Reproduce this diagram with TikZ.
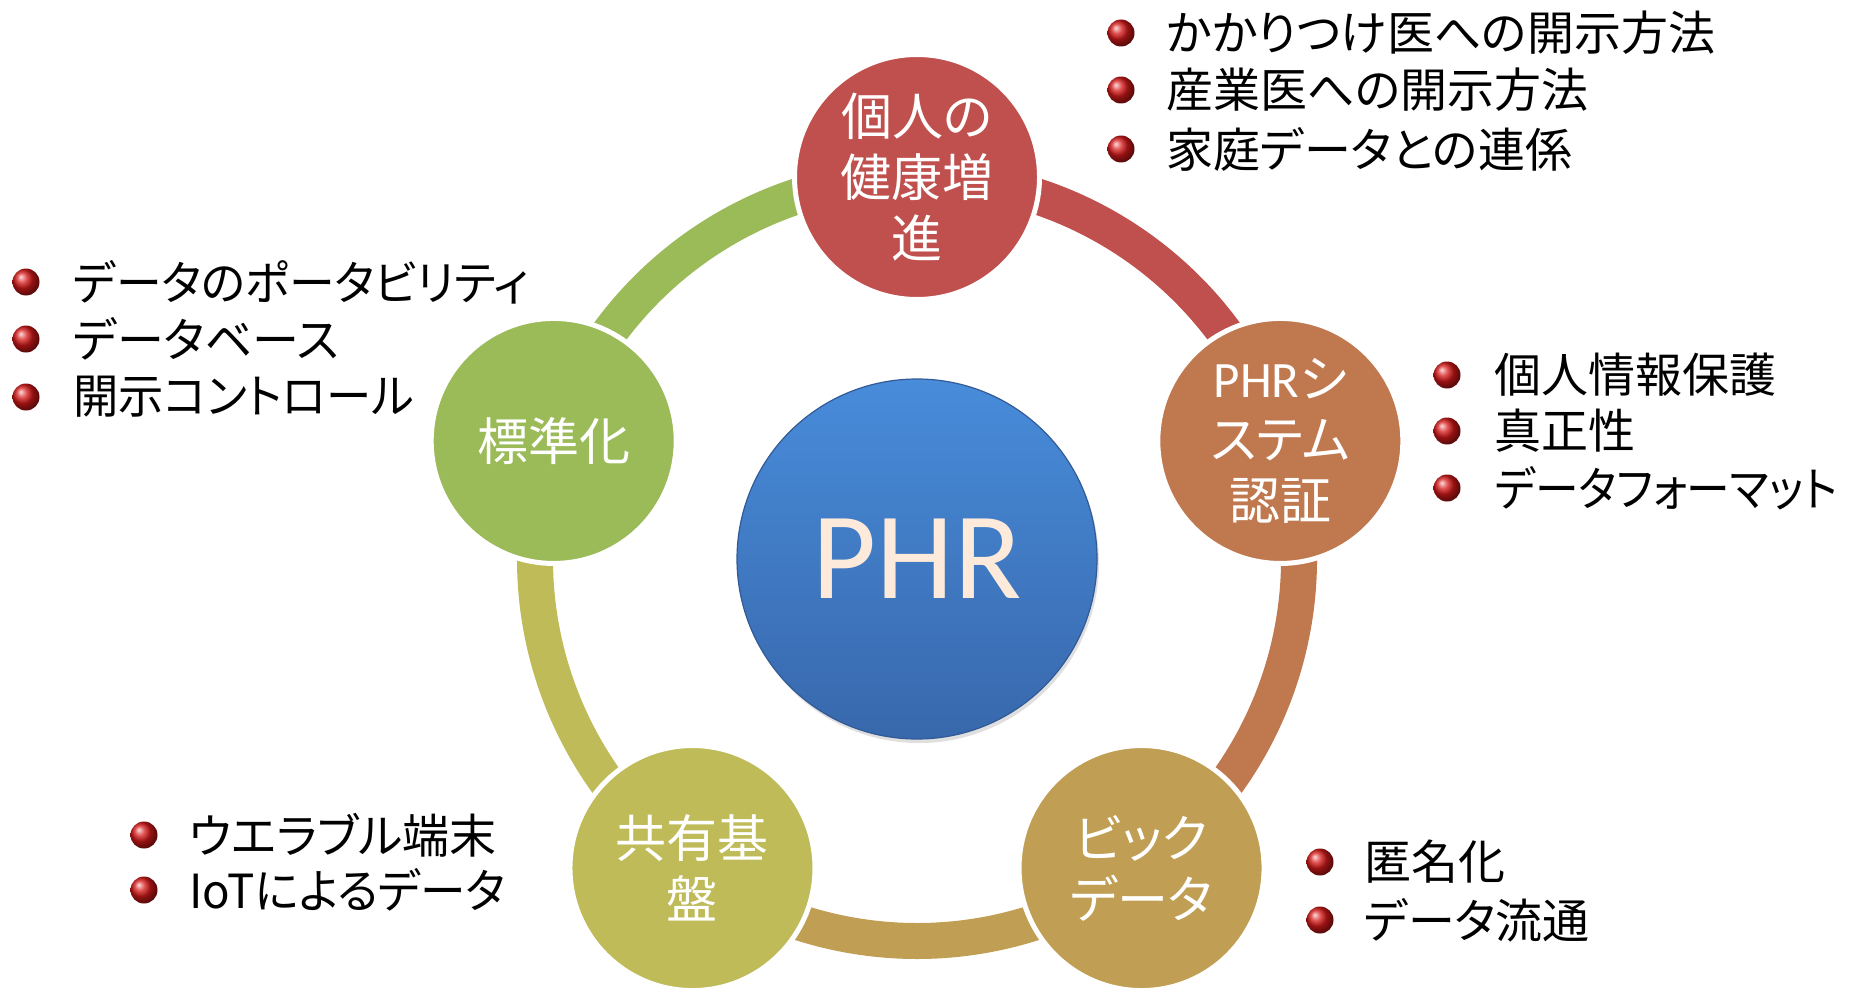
\documentclass[tikz,border=0pt]{standalone}
\usepackage{graphicx}
\usepackage{fontspec}
\setmainfont{Carlito}
\newfontfamily\jp[RawFeature=+palt]{Noto Sans CJK JP}
\newfontfamily\lat{Carlito}
\usetikzlibrary{shadows,backgrounds}
\definecolor{cA}{RGB}{192,80,77}
\definecolor{cB}{RGB}{192,120,79}
\definecolor{cC}{RGB}{192,158,83}
\definecolor{cD}{RGB}{190,187,88}
\definecolor{cE}{RGB}{155,187,89}
\definecolor{phrT}{RGB}{72,140,218}
\definecolor{phrB}{RGB}{56,104,172}
\definecolor{phrE}{RGB}{50,90,150}
\definecolor{phrText}{RGB}{253,234,218}
\definecolor{bred}{RGB}{215,25,25}
\newcommand{\narrow}[2]{\scalebox{#1}[1]{#2}}
\begin{document}
\begin{tikzpicture}[x=0.5pt,y=0.5pt,
  sat/.style={circle,minimum size=122.5pt,inner sep=0pt,draw=white,line width=2.5pt,
    text=white,align=center,font=\jp\fontsize{25.5pt}{30.5pt}\selectfont},
  ringarc/.style={line width=18pt},
  bulletball/.style={circle,minimum size=13.5pt,inner sep=0pt,ball color=bred},
  itemtext/.style={anchor=west,inner sep=0pt,text=black,font=\jp\fontsize{23.5pt}{28pt}\selectfont}]
\useasboundingbox (0,0) rectangle (1856,993);
\coordinate (C) at (917,434);
% center
\node[circle,minimum size=180pt,inner sep=0pt,top color=phrT,bottom color=phrB,
  draw=phrE,line width=0.6pt,text=phrText,
  drop shadow={opacity=0.25,shadow xshift=1pt,shadow yshift=-2pt},
  font=\lat\fontsize{62pt}{70pt}\selectfont] (phr) at (C) {PHR};
% satellites
\node[sat,fill=cA] (n1) at ([shift={(90:382)}]C) {個人の\\健康増\\進};
\node[sat,fill=cB] (n2) at ([shift={(18:382)}]C) {{\lat PHR}シ\\ステム\\認証};
\node[sat,fill=cC] (n3) at ([shift={(-54:382)}]C) {ビック\\データ};
\node[sat,fill=cD] (n4) at ([shift={(-126:382)}]C) {共有基\\盤};
\node[sat,fill=cE] (n5) at ([shift={(162:382)}]C) {標準化};
% ring
\begin{scope}[on background layer]
\draw[ringarc,cA] (n1.center) arc[start angle=90,end angle=18,radius=382];
\draw[ringarc,cB] (n2.center) arc[start angle=18,end angle=-54,radius=382];
\draw[ringarc,cC] (n3.center) arc[start angle=-54,end angle=-126,radius=382];
\draw[ringarc,cD] (n4.center) arc[start angle=-126,end angle=-198,radius=382];
\draw[ringarc,cE] (n5.center) arc[start angle=162,end angle=90,radius=382];
\end{scope}
% top group
\node[bulletball] (b11) at (1121,960) {};
\node[bulletball] (b12) at (1121,903) {};
\node[bulletball] (b13) at (1121,844) {};
\node[itemtext] (t11) at (1166,960) {かかりつけ医への開示方法};
\node[itemtext] (t12) at (1166,903) {産業医への開示方法};
\node[itemtext] (t13) at (1166,844) {家庭データとの連係};
% right group
\node[bulletball] (b21) at (1447,618) {};
\node[bulletball] (b22) at (1447,562) {};
\node[bulletball] (b23) at (1447,505) {};
\node[itemtext] (t21) at (1494,618) {個人情報保護};
\node[itemtext] (t22) at (1494,562) {真正性};
\node[itemtext] (t23) at (1494,505) {\narrow{0.93}{データフォーマット}};
% bottom right group
\node[bulletball] (b31) at (1320,131) {};
\node[bulletball] (b32) at (1320,73) {};
\node[itemtext] (t31) at (1364,131) {匿名化};
\node[itemtext] (t32) at (1364,73) {データ流通};
% bottom left group
\node[bulletball] (b41) at (144,158) {};
\node[bulletball] (b42) at (144,103) {};
\node[itemtext] (t41) at (189,158) {ウエラブル端末};
\node[itemtext] (t42) at (189,103) {\narrow{0.97}{IoTによるデータ}};
% left group
\node[bulletball] (b51) at (26,711) {};
\node[bulletball] (b52) at (26,654) {};
\node[bulletball] (b53) at (26,596) {};
\node[itemtext] (t51) at (73,711) {\narrow{0.975}{データのポータビリティ}};
\node[itemtext] (t52) at (73,654) {データベース};
\node[itemtext] (t53) at (73,596) {\narrow{0.965}{開示コントロール}};
\end{tikzpicture}
\end{document}
